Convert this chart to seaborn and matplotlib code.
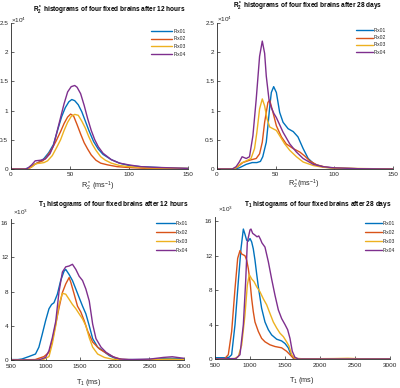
import matplotlib
matplotlib.use("Agg")
import matplotlib.pyplot as plt
import seaborn as sns
import pandas as pd
from matplotlib.ticker import FormatStrFormatter

# ---------------- data ----------------
SERIES = ["Fix01", "Fix02", "Fix03", "Fix04"]
COLORS = ["#0072BD", "#D95319", "#EDB120", "#7E2F8E"]

# R2* after 12 hours (counts x 1e4)
r2_12h_fix01_x = [0, 12, 16, 20, 25, 28, 32, 36, 40, 43, 46, 49, 51.5, 54, 57, 60, 63, 66, 70, 74, 78, 85, 92, 100, 110, 120, 135, 150]
r2_12h_fix01_y = [0, 0, 0.03, 0.08, 0.13, 0.18, 0.28, 0.42, 0.70, 0.90, 1.05, 1.15, 1.19, 1.17, 1.10, 0.98, 0.82, 0.66, 0.47, 0.34, 0.25, 0.16, 0.10, 0.06, 0.04, 0.03, 0.015, 0.01]
r2_12h_fix02_x = [0, 14, 17, 20, 24, 27, 30, 34, 38, 42, 45, 48, 50.5, 53, 56, 59, 62, 65, 68, 72, 76, 82, 90, 100, 115, 150]
r2_12h_fix02_y = [0, 0, 0.03, 0.08, 0.12, 0.14, 0.20, 0.32, 0.47, 0.64, 0.78, 0.89, 0.94, 0.91, 0.76, 0.60, 0.45, 0.34, 0.24, 0.15, 0.10, 0.07, 0.04, 0.025, 0.01, 0.005]
r2_12h_fix03_x = [0, 14, 18, 21, 25, 28, 31, 35, 39, 42, 45, 48, 51, 54, 57, 60, 63, 66, 69, 72, 76, 80, 85, 92, 100, 115, 150]
r2_12h_fix03_y = [0, 0, 0.04, 0.09, 0.10, 0.11, 0.14, 0.23, 0.38, 0.50, 0.66, 0.80, 0.90, 0.935, 0.92, 0.82, 0.70, 0.55, 0.42, 0.32, 0.21, 0.15, 0.10, 0.06, 0.04, 0.02, 0.01]
r2_12h_fix04_x = [0, 12, 14, 17.5, 20.5, 25, 29, 33, 36, 40, 42, 45, 48, 51, 54, 56, 59, 62, 65, 68, 71, 74, 78, 85, 92, 100, 110, 120, 135, 150]
r2_12h_fix04_y = [0, 0, 0.01, 0.07, 0.14, 0.15, 0.17, 0.26, 0.40, 0.72, 0.88, 1.12, 1.32, 1.41, 1.43, 1.40, 1.29, 1.09, 0.86, 0.66, 0.50, 0.38, 0.27, 0.16, 0.10, 0.07, 0.04, 0.03, 0.02, 0.01]

# R2* after 28 days (counts x 1e4)
r2_28d_fix01_x = [0, 15, 19, 25, 30, 34, 37, 39, 42, 43.4, 45, 46.3, 48.3, 50.6, 53.4, 56.3, 60.6, 65, 69, 73.4, 77.7, 82, 85, 92, 100, 120, 150]
r2_28d_fix01_y = [0, 0, 0.02, 0.08, 0.11, 0.11, 0.13, 0.21, 0.46, 0.74, 1.08, 1.31, 1.41, 1.31, 0.97, 0.80, 0.69, 0.64, 0.55, 0.35, 0.18, 0.10, 0.07, 0.03, 0.015, 0.005, 0]
r2_28d_fix02_x = [0, 14, 17.7, 22, 27.7, 33.4, 36.3, 38.6, 40.6, 43.4, 44.9, 47.7, 50.6, 54.9, 59, 64.9, 70.6, 74.9, 79, 85, 92, 100, 120, 150]
r2_28d_fix02_y = [0, 0, 0.04, 0.11, 0.15, 0.18, 0.26, 0.46, 0.80, 1.14, 1.18, 0.97, 0.74, 0.55, 0.43, 0.35, 0.29, 0.22, 0.14, 0.07, 0.035, 0.015, 0.005, 0]
r2_28d_fix03_x = [0, 13, 16.3, 20.6, 24.9, 29, 32, 34, 36.3, 38.6, 40.6, 42.6, 44.9, 47.7, 50.6, 53.4, 57.7, 62, 67.7, 73.4, 82, 90, 100, 150]
r2_28d_fix03_y = [0, 0, 0.02, 0.10, 0.14, 0.18, 0.35, 0.63, 1.03, 1.20, 1.08, 0.86, 0.72, 0.69, 0.66, 0.57, 0.43, 0.32, 0.21, 0.12, 0.06, 0.03, 0.015, 0]
r2_28d_fix04_x = [0, 13, 16.3, 19, 21.4, 24.9, 27.7, 30.6, 33.4, 36.3, 38.6, 40.6, 42, 44.3, 46.3, 48.5, 50.6, 56.3, 62, 67.7, 73.4, 82, 90, 100, 120, 150]
r2_28d_fix04_y = [0, 0, 0.04, 0.12, 0.21, 0.18, 0.21, 0.57, 1.19, 1.93, 2.19, 1.98, 1.59, 1.19, 1.05, 0.95, 0.88, 0.63, 0.43, 0.29, 0.18, 0.08, 0.04, 0.02, 0.005, 0]

# T1 after 12 hours (counts x 1e3)
t1_12h_fix01_x = [500, 600, 660, 757, 854, 903, 951, 1000, 1049, 1087, 1121, 1170, 1218, 1267, 1291, 1340, 1388, 1437, 1485, 1534, 1582, 1631, 1680, 1752, 1825, 1922, 2019, 2100, 2400, 2600, 2800, 2950, 3000]
t1_12h_fix01_y = [0.05, 0.05, 0.12, 0.4, 0.7, 1.5, 3.0, 4.6, 6.0, 6.5, 6.7, 7.7, 9.3, 10.4, 10.6, 10.0, 9.3, 8.3, 7.3, 6.3, 5.4, 4.0, 2.5, 1.5, 1.1, 0.5, 0.15, 0.05, 0.05, 0.1, 0.2, 0.15, 0.1]
t1_12h_fix02_x = [500, 850, 903, 976, 1049, 1097, 1146, 1194, 1243, 1291, 1340, 1364, 1413, 1461, 1510, 1558, 1607, 1680, 1777, 1898, 1995, 2100, 2300, 3000]
t1_12h_fix02_y = [0, 0.05, 0.2, 0.4, 0.9, 2.3, 4.2, 6.1, 7.9, 8.9, 9.65, 9.1, 7.7, 6.3, 5.6, 4.6, 3.4, 2.1, 1.3, 0.7, 0.3, 0.08, 0.02, 0]
t1_12h_fix03_x = [500, 950, 1049, 1097, 1146, 1194, 1243, 1291, 1340, 1388, 1437, 1485, 1534, 1582, 1631, 1680, 1752, 1850, 1971, 2100, 2500, 2800, 3000]
t1_12h_fix03_y = [0, 0, 0.4, 1.9, 4.0, 6.5, 7.8, 7.7, 7.1, 6.5, 6.0, 5.4, 4.8, 4.0, 2.6, 1.5, 0.7, 0.3, 0.08, 0.02, 0.05, 0.1, 0.05]
t1_12h_fix04_x = [500, 900, 1000, 1049, 1097, 1146, 1194, 1243, 1291, 1340, 1388, 1437, 1485, 1534, 1582, 1631, 1680, 1728, 1801, 1874, 1971, 2068, 2200, 2500, 2700, 2830, 2950, 3000]
t1_12h_fix04_y = [0, 0, 0.3, 1.1, 2.6, 4.5, 8.0, 10.3, 10.9, 11.0, 11.2, 10.6, 9.8, 9.3, 8.3, 6.9, 4.2, 2.5, 1.5, 0.9, 0.4, 0.12, 0.05, 0.1, 0.3, 0.38, 0.25, 0.2]

# T1 after 28 days (counts x 1e3)
t1_28d_fix01_x = [500, 650, 700, 738, 786, 833, 871, 905, 928, 952, 976, 1000, 1024, 1047, 1071, 1095, 1119, 1166, 1214, 1262, 1309, 1381, 1452, 1500, 1547, 1585, 1619, 1700, 3000]
t1_28d_fix01_y = [0.15, 0.15, 0.2, 0.5, 4.0, 9.0, 12.8, 15.1, 14.5, 13.8, 13.7, 14.0, 13.6, 12.8, 11.5, 9.9, 8.4, 5.9, 4.3, 3.4, 2.8, 2.3, 2.1, 1.8, 1.3, 0.5, 0.1, 0.02, 0]
t1_28d_fix02_x = [500, 640, 690, 738, 786, 824, 857, 881, 928, 952, 976, 1000, 1024, 1047, 1071, 1119, 1166, 1214, 1285, 1357, 1452, 1523, 1571, 1619, 1700, 3000]
t1_28d_fix02_y = [0, 0.05, 0.5, 3.2, 8.2, 11.7, 12.6, 12.2, 12.0, 11.5, 10.5, 9.0, 7.0, 5.5, 4.3, 3.2, 2.4, 2.0, 1.65, 1.45, 1.3, 0.9, 0.5, 0.1, 0, 0]
t1_28d_fix03_x = [500, 780, 833, 881, 928, 962, 990, 1024, 1057, 1095, 1143, 1190, 1238, 1285, 1333, 1381, 1428, 1476, 1523, 1557, 1595, 1642, 1750, 2200, 2400, 2600, 3000]
t1_28d_fix03_y = [0, 0.05, 0.3, 1.6, 5.1, 8.6, 9.8, 9.3, 9.0, 8.4, 7.8, 7.0, 6.3, 5.3, 4.3, 3.6, 3.0, 2.6, 2.0, 1.5, 0.5, 0.1, 0.02, 0.05, 0.08, 0.02, 0]
t1_28d_fix04_x = [500, 800, 857, 905, 938, 962, 1000, 1014, 1038, 1071, 1100, 1125, 1150, 1170, 1214, 1262, 1309, 1357, 1405, 1452, 1500, 1538, 1571, 1604, 1642, 1690, 3000]
t1_28d_fix04_y = [0, 0.05, 0.5, 4.0, 9.0, 13.6, 15.0, 15.1, 14.6, 14.4, 14.2, 14.3, 13.9, 13.5, 13.0, 11.3, 9.3, 7.4, 5.7, 4.7, 4.0, 3.4, 2.4, 0.9, 0.2, 0, 0]

TITLES = [r"R$_2^*$ histograms of four fixed brains after 12 hours",
          r"R$_2^*$ histograms of four fixed brains after 28 days",
          r"T$_1$ histograms of four fixed brains after 12 hours",
          r"T$_1$ histograms of four fixed brains after 28 days"]
XLABELS = [r"R$_2^*$ (ms$^{-1}$)", r"R$_2^*$(ms$^{-1}$)", r"T$_1$ (ms)", r"T$_1$ (ms)"]
EXPONENTS = [r"$\times$10$^4$", r"$\times$10$^4$", r"$\times$10$^3$", r"$\times$10$^3$"]
R2_XTICKS = [0, 50, 100, 150]
R2_YTICKS = [0, 0.5, 1, 1.5, 2, 2.5]
T1_XTICKS = [500, 1000, 1500, 2000, 2500, 3000]
T1_YTICKS = [0, 4, 8, 12, 16]

# ---------------- figure ----------------
sns.set_style("ticks")
plt.rcParams["font.family"] = ["Liberation Sans", "DejaVu Sans"]
plt.rcParams["mathtext.default"] = "regular"

W, H = 400, 388
fig = plt.figure(figsize=(4.0, 3.88), dpi=100)

def rect(x0, x1, ytop, ybot):
    return [x0 / W, 1 - ybot / H, (x1 - x0) / W, (ybot - ytop) / H]

panels = [
    dict(rect=rect(11, 188, 23, 169), data=[(r2_12h_fix01_x, r2_12h_fix01_y), (r2_12h_fix02_x, r2_12h_fix02_y), (r2_12h_fix03_x, r2_12h_fix03_y), (r2_12h_fix04_x, r2_12h_fix04_y)],
         xlim=(0, 150), ylim=(0, 2.5), xt=R2_XTICKS, yt=R2_YTICKS, fmt="%g", xpad=2,
         title=(109, 10), xlabel=(98, 186), expo=(11, 20), leg=(151, 29), hl=4.2, ls=0.5),
    dict(rect=rect(217, 393, 23, 169), data=[(r2_28d_fix01_x, r2_28d_fix01_y), (r2_28d_fix02_x, r2_28d_fix02_y), (r2_28d_fix03_x, r2_28d_fix03_y), (r2_28d_fix04_x, r2_28d_fix04_y)],
         xlim=(0, 150), ylim=(0, 2.5), xt=R2_XTICKS, yt=R2_YTICKS, fmt="%g", xpad=2,
         title=(308, 6), xlabel=(304, 184), expo=(217, 19), leg=(356, 28), hl=3.3, ls=0.45),
    dict(rect=rect(11, 184, 219, 360), data=[(t1_12h_fix01_x, t1_12h_fix01_y), (t1_12h_fix02_x, t1_12h_fix02_y), (t1_12h_fix03_x, t1_12h_fix03_y), (t1_12h_fix04_x, t1_12h_fix04_y)],
         xlim=(500, 3000), ylim=(0, 16.5), xt=T1_XTICKS, yt=T1_YTICKS, fmt="%g", xpad=3.2,
         title=(113, 205), xlabel=(89, 383), expo=(13, 212), leg=(156, 221), hl=3.7, ls=0.8),
    dict(rect=rect(215, 390, 217, 359), data=[(t1_28d_fix01_x, t1_28d_fix01_y), (t1_28d_fix02_x, t1_28d_fix02_y), (t1_28d_fix03_x, t1_28d_fix03_y), (t1_28d_fix04_x, t1_28d_fix04_y)],
         xlim=(500, 3000), ylim=(0, 16.5), xt=T1_XTICKS, yt=T1_YTICKS, fmt="%g", xpad=3.2,
         title=(318, 205), xlabel=(302, 380), expo=(218, 209), leg=(365, 221), hl=3.3, ls=0.8),
]

AX_COLOR = "#262626"
for i, p in enumerate(panels):
    ax = fig.add_axes(p["rect"])
    for (xs, ys), name, col in zip(p["data"], SERIES, COLORS):
        df = pd.DataFrame({"x": xs, "y": ys})
        sns.lineplot(data=df, x="x", y="y", ax=ax, color=col, linewidth=1.0, label=name)
    ax.set_xlim(*p["xlim"])
    ax.set_ylim(*p["ylim"])
    ax.set_xticks(p["xt"])
    ax.set_yticks(p["yt"])
    ax.yaxis.set_major_formatter(FormatStrFormatter(p["fmt"]))
    ax.set_xlabel("")
    ax.set_ylabel("")
    for s in ["top", "right"]:
        ax.spines[s].set_visible(False)
    for s in ["left", "bottom"]:
        ax.spines[s].set_color(AX_COLOR)
        ax.spines[s].set_linewidth(0.6)
    ax.tick_params(direction="in", length=2, width=0.5, colors=AX_COLOR,
                   labelsize=4.6, pad=2)
    ax.tick_params(axis="x", pad=p["xpad"])
    ax.patch.set_alpha(0)
    ax.legend(loc="upper left", bbox_to_anchor=(p["leg"][0] / W, 1 - p["leg"][1] / H),
              bbox_transform=fig.transFigure, frameon=False, fontsize=3.6,
              handlelength=p["hl"], handletextpad=0.3, labelspacing=p["ls"],
              borderpad=0, borderaxespad=0)
    fig.text(p["title"][0] / W, 1 - p["title"][1] / H, TITLES[i], ha="center", va="center",
             fontsize=4.7, fontweight="bold", color="black")
    fig.text(p["xlabel"][0] / W, 1 - p["xlabel"][1] / H, XLABELS[i], ha="center", va="center",
             fontsize=5.2, color=AX_COLOR)
    fig.text(p["expo"][0] / W, 1 - p["expo"][1] / H, EXPONENTS[i], ha="left", va="center",
             fontsize=4.6, color=AX_COLOR)

fig.savefig("out.png", dpi=100, facecolor="white")
